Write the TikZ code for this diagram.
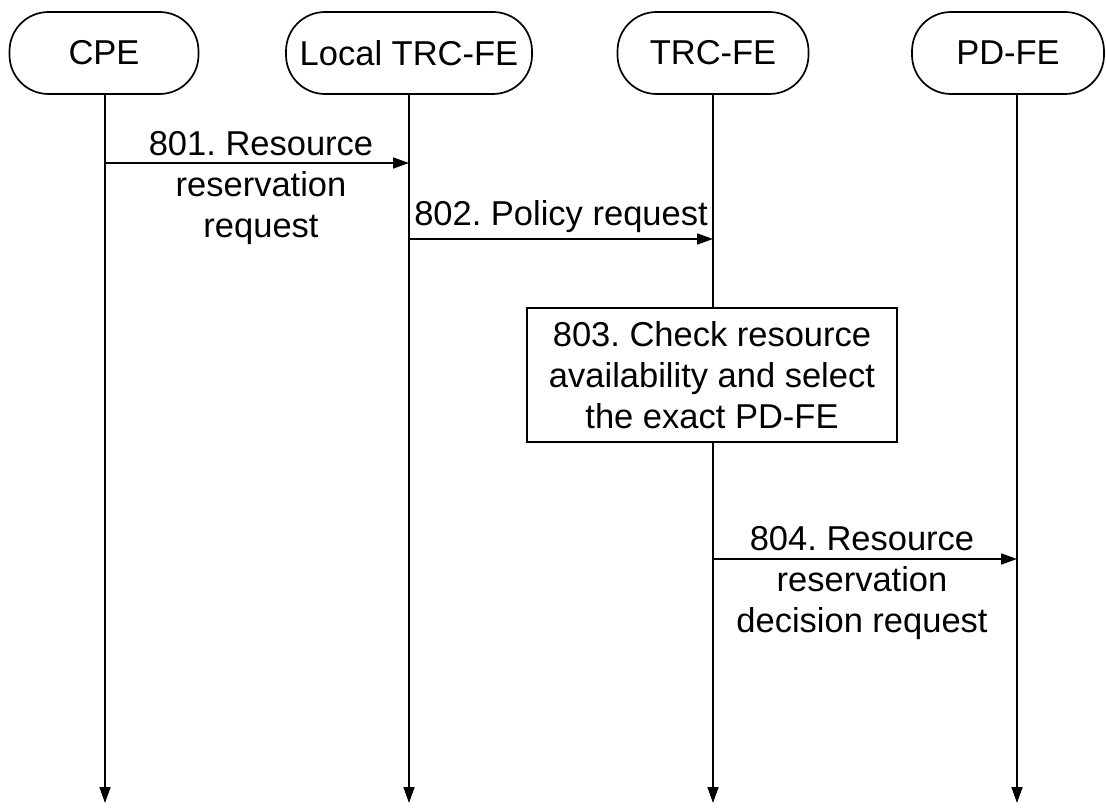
\documentclass[tikz,border=0pt]{standalone}
\usepackage{fontspec}
\setmainfont{Liberation Sans}
\usetikzlibrary{arrows.meta}
\frenchspacing
\begin{document}
\begin{tikzpicture}[x=1pt,y=-1pt,line width=1.7pt,
  every node/.style={font=\fontsize{34.5}{41}\selectfont, inner sep=0pt},
  actor/.style={draw, rounded corners=39pt, minimum height=82pt, align=center},
  life/.style={-{Triangle[length=16pt,width=11pt]}},
  msg/.style={-{Triangle[length=16pt,width=11pt]}},
  lbl/.style={align=center},
  step box/.style={draw, fill=white, align=center, minimum width=370pt, minimum height=134pt}]
\useasboundingbox (0,0) rectangle (1106,810);
% actors
\node[actor, minimum width=189pt] (cpe) at (104,53) {CPE};
\node[actor, minimum width=246pt] (ltrc) at (409,53) {Local TRC-FE};
\node[actor, minimum width=191pt] (trc) at (713,53) {TRC-FE};
\node[actor, minimum width=192pt] (pd) at (1008,53) {PD-FE};
% lifeline ends
\coordinate (cpeE) at (105,803);
\coordinate (ltrcE) at (409,803);
\coordinate (trcE) at (713,803);
\coordinate (pdE) at (1017,803);
\coordinate (cpeT) at (105,94);
\coordinate (ltrcT) at (409,94);
\coordinate (trcT) at (713,94);
\coordinate (pdT) at (1017,94);
\draw[life] (cpeT) -- (cpeE);
\draw[life] (ltrcT) -- (ltrcE);
\draw[life] (trcT) -- (trcE);
\draw[life] (pdT) -- (pdE);
% step box
\node[step box] (s803) at (712,375) {803. Check resource\\availability and select\\the exact PD-FE};
% messages
\coordinate (m1a) at (105,163);
\coordinate (m1b) at (409,163);
\draw[msg] (m1a) -- (m1b);
\node[lbl] (l801) at (261,188) {801. Resource\\reservation\\request};
\coordinate (m2a) at (409,239);
\coordinate (m2b) at (713,239);
\draw[msg] (m2a) -- (m2b);
\node[lbl, anchor=south] (l802) at (561,234) {802. Policy request};
\coordinate (m4a) at (713,559);
\coordinate (m4b) at (1017,559);
\draw[msg] (m4a) -- (m4b);
\node[lbl] (l804) at (862,583) {804. Resource\\reservation\\decision request};
\end{tikzpicture}
\end{document}
